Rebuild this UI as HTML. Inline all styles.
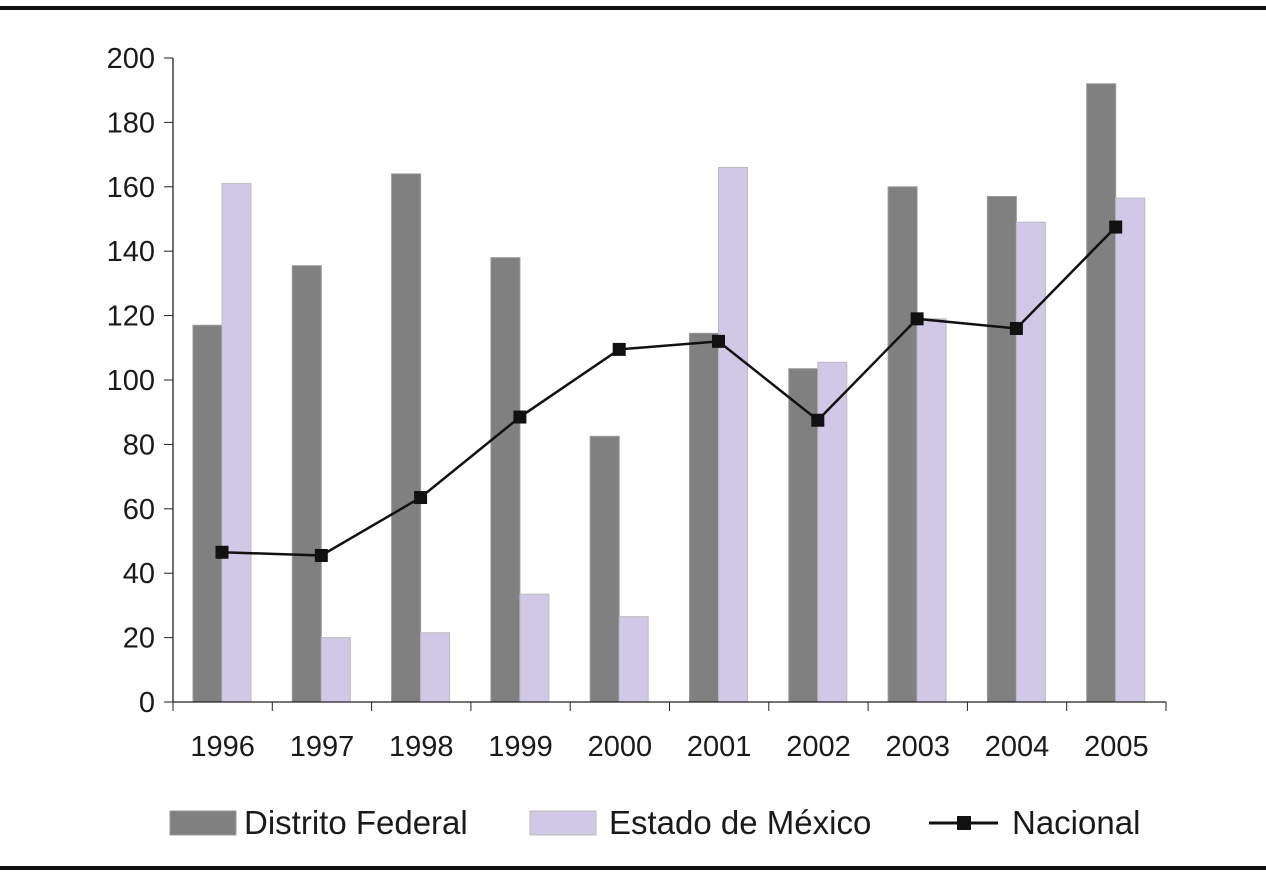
<!DOCTYPE html>
<html><head><meta charset="utf-8"><style>
body{margin:0;background:#fff;width:1266px;height:876px;overflow:hidden}
svg text{font-family:"Liberation Sans",sans-serif;fill:#1a1a1a}
</style></head><body>
<svg id="chart" width="1266" height="876" xmlns="http://www.w3.org/2000/svg">
<rect x="0" y="6" width="1266" height="4" fill="#111"/>
<rect x="0" y="866" width="1266" height="4" fill="#111"/>
<g id="plot"></g>
<g>
<rect x="170" y="811" width="66" height="24" fill="#808080" stroke="#9a9a9a"/>
<text x="244" y="834" font-size="33">Distrito Federal</text>
<rect x="530" y="811" width="66" height="24" fill="#d0c8e6" stroke="#bbb"/>
<text x="609" y="834" font-size="33">Estado de México</text>
<line x1="929" y1="823" x2="998" y2="823" stroke="#111" stroke-width="3"/>
<rect x="957" y="816" width="14" height="14" fill="#111"/>
<text x="1012" y="834" font-size="33">Nacional</text>
</g>
</svg>
<script>
const categories=["1996","1997","1998","1999","2000","2001","2002","2003","2004","2005"];
const distritoFederal=[117,135.5,164,138,82.5,114.5,103.5,160,157,192];
const estadoMexico=[161,20,21.5,33.5,26.5,166,105.5,119,149,156.5];
const nacional=[46.5,45.5,63.5,88.5,109.5,112,87.5,119,116,147.5];
const yTicks=[0,20,40,60,80,100,120,140,160,180,200];
const NS="http://www.w3.org/2000/svg";
const X0=173,X1=1166,Y0=702,Y1=58,YMAX=200;
const band=(X1-X0)/categories.length;
const y=v=>Y0-(v/YMAX)*(Y0-Y1);
const x=i=>X0+i*band;
const g=document.getElementById('plot');
function mk(t,a){const e=document.createElementNS(NS,t);for(const k in a)e.setAttribute(k,a[k]);g.appendChild(e);return e;}
categories.forEach((c,i)=>{
 const b1=mk('rect',{x:x(i)+20,y:y(distritoFederal[i]),width:29,height:Y0-y(distritoFederal[i]),fill:'#808080',stroke:'#999','stroke-width':1});
 
 
 const b2=mk('rect',{x:x(i)+49,y:y(estadoMexico[i]),width:29,height:Y0-y(estadoMexico[i]),fill:'#d0c8e6',stroke:'#bbb','stroke-width':1});
 
 
});
const ax=mk('line',{x1:X0,y1:Y1,x2:X0,y2:Y0,stroke:'#222','stroke-width':1.3});


const ax2=mk('line',{x1:X0,y1:Y0,x2:X1,y2:Y0,stroke:'#222','stroke-width':1.3});


yTicks.forEach(t=>{
 const l=mk('line',{x1:X0-9,y1:y(t),x2:X0,y2:y(t),stroke:'#222'});
 
 
 const tx=mk('text',{x:X0-18,y:y(t)+10,'font-size':29,'text-anchor':'end'});
 tx.textContent=t;
 
 
});
for(let i=0;i<=categories.length;i++){
 const l=mk('line',{x1:x(i),y1:Y0,x2:x(i),y2:Y0+9,stroke:'#222'});
 
 
}
categories.forEach((c,i)=>{
 const tx=mk('text',{x:x(i)+band/2,y:756,'font-size':29,'text-anchor':'middle'});
 tx.textContent=c;
 
 
});
const pts=nacional.map((v,i)=>(x(i)+49)+','+y(v)).join(' ');
const pl=mk('polyline',{points:pts,fill:'none',stroke:'#111','stroke-width':2.5});


nacional.forEach((v,i)=>{
 const m=mk('rect',{x:x(i)+49-6.5,y:y(v)-6.5,width:13,height:13,fill:'#111'});
 
 
});
</script>
</body></html>
